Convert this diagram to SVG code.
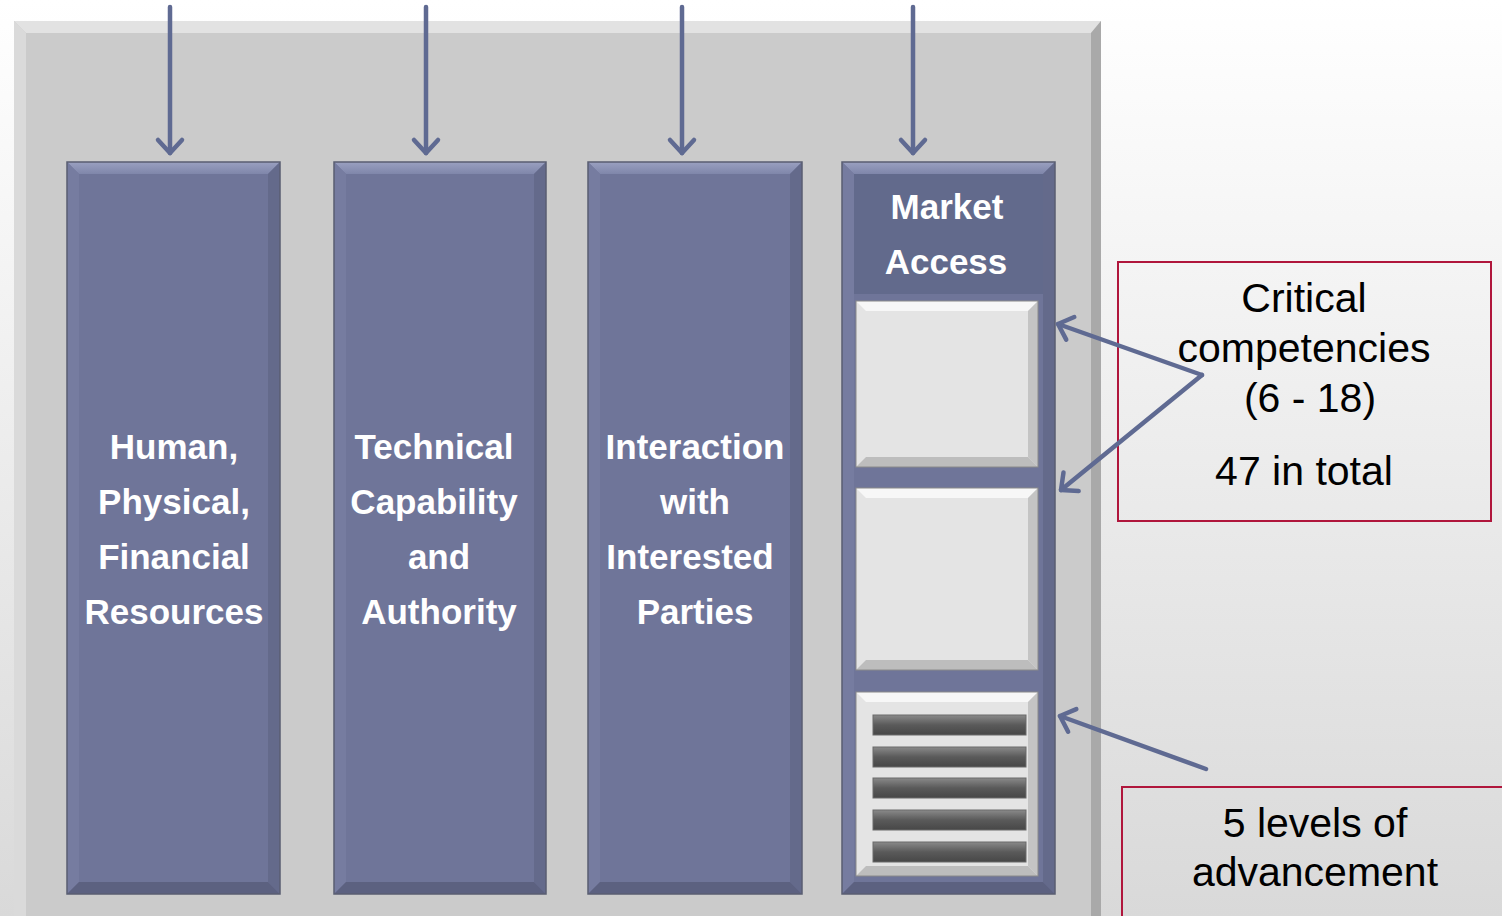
<svg xmlns="http://www.w3.org/2000/svg" width="1502" height="916" viewBox="0 0 1502 916">
<defs>
<linearGradient id="bg" x1="0" y1="0" x2="0" y2="1">
<stop offset="0" stop-color="#ffffff"/><stop offset="1" stop-color="#d9d9d9"/>
</linearGradient>
<marker id="ah" markerWidth="12" markerHeight="12" refX="9" refY="6" orient="auto" markerUnits="userSpaceOnUse" viewBox="0 0 12 12" overflow="visible">
<path d="M-4,-6 L9,6 L-4,18" fill="none" stroke="#5f6a92" stroke-width="4.5" stroke-linecap="round" stroke-linejoin="round"/>
</marker>
<linearGradient id="bar" x1="0" y1="0" x2="0" y2="1">
<stop offset="0" stop-color="#8a8a8a"/><stop offset="0.5" stop-color="#5a5a5a"/><stop offset="1" stop-color="#474747"/>
</linearGradient>
<linearGradient id="topb" x1="0" y1="0" x2="0" y2="1">
<stop offset="0" stop-color="#9aa0c0"/><stop offset="1" stop-color="#7f86aa"/>
</linearGradient>
</defs>
<style>
.col{fill:#6f7599}
.bt{fill:url(#topb)}
.bl{fill:#767ca0}
.br{fill:#646a8b}
.bb{fill:#5c6180}
.edge{fill:none;stroke:#5a5e72;stroke-width:1.5}
.lbl{font-family:"Liberation Sans",Arial,sans-serif;font-weight:bold;font-size:35px;fill:#ffffff;text-anchor:middle}
.call{font-family:"Liberation Sans",Arial,sans-serif;font-size:41px;fill:#000000;text-anchor:middle}
.box{fill:none;stroke:#b0163c;stroke-width:2}
.conn{fill:none;stroke:#5f6a92;stroke-width:4.5;stroke-linecap:round}
.wb{fill:#e4e4e4}
.wbt{fill:#f7f7f7}
.wbr{fill:#c4c4c4}
.wbb{fill:#bdbdbd}
</style>
<rect x="0" y="0" width="1502" height="916" fill="url(#bg)"/>
<g id="panel">
<rect x="14" y="21" width="1087" height="900" fill="#cbcbcb"/>
<polygon points="14,21 1101,21 1091,33 26,33" fill="#e2e2e2"/>
<polygon points="14,21 26,33 26,921 14,921" fill="#dadada"/>
<polygon points="1101,21 1101,921 1091,921 1091,33" fill="#a9a9a9"/>
</g>
<g id="col1">
<rect class="col" x="67" y="162" width="213" height="732"/>
<polygon class="bt" points="67,162 280,162 268,174 79,174"/>
<polygon class="bl" points="67,162 79,174 79,882 67,894"/>
<polygon class="br" points="280,162 280,894 268,882 268,174"/>
<polygon class="bb" points="67,894 280,894 268,882 79,882"/>
<rect class="edge" x="67" y="162" width="213" height="732"/>
<text class="lbl" x="174" y="459">Human,</text>
<text class="lbl" x="174" y="514">Physical,</text>
<text class="lbl" x="174" y="569">Financial</text>
<text class="lbl" x="174" y="624">Resources</text>
</g>
<g id="col2">
<rect class="col" x="334" y="162" width="212" height="732"/>
<polygon class="bt" points="334,162 546,162 534,174 346,174"/>
<polygon class="bl" points="334,162 346,174 346,882 334,894"/>
<polygon class="br" points="546,162 546,894 534,882 534,174"/>
<polygon class="bb" points="334,894 546,894 534,882 346,882"/>
<rect class="edge" x="334" y="162" width="212" height="732"/>
<text class="lbl" x="434" y="459">Technical</text>
<text class="lbl" x="434" y="514">Capability</text>
<text class="lbl" x="439" y="569">and</text>
<text class="lbl" x="439" y="624">Authority</text>
</g>
<g id="col3">
<rect class="col" x="588" y="162" width="214" height="732"/>
<polygon class="bt" points="588,162 802,162 790,174 600,174"/>
<polygon class="bl" points="588,162 600,174 600,882 588,894"/>
<polygon class="br" points="802,162 802,894 790,882 790,174"/>
<polygon class="bb" points="588,894 802,894 790,882 600,882"/>
<rect class="edge" x="588" y="162" width="214" height="732"/>
<text class="lbl" x="695" y="459">Interaction</text>
<text class="lbl" x="695" y="514">with</text>
<text class="lbl" x="690" y="569">Interested</text>
<text class="lbl" x="695" y="624">Parties</text>
</g>
<g id="col4">
<rect class="col" x="842" y="162" width="213" height="732"/>
<rect x="854" y="174" width="189" height="120" fill="#626a8c"/>
<polygon class="bt" points="842,162 1055,162 1043,174 854,174"/>
<polygon class="bl" points="842,162 854,174 854,882 842,894"/>
<polygon class="br" points="1055,162 1055,894 1043,882 1043,174"/>
<polygon class="bb" points="842,894 1055,894 1043,882 854,882"/>
<rect class="edge" x="842" y="162" width="213" height="732"/>
<text class="lbl" x="947" y="219">Market</text>
<text class="lbl" x="946" y="274">Access</text>
</g>
<g id="comp1">
<rect class="wb" x="856" y="301" width="182" height="166"/>
<polygon class="wbt" points="856,301 1038,301 1028,311 866,311"/>
<polygon class="wbr" points="1038,301 1038,467 1028,457 1028,311"/>
<polygon class="wbb" points="856,467 1038,467 1028,457 866,457"/>
<rect x="856" y="301" width="182" height="166" fill="none" stroke="#8a8a8a" stroke-width="1"/>
</g>
<g id="comp2">
<rect class="wb" x="856" y="488" width="182" height="182"/>
<polygon class="wbt" points="856,488 1038,488 1028,498 866,498"/>
<polygon class="wbr" points="1038,488 1038,670 1028,660 1028,498"/>
<polygon class="wbb" points="856,670 1038,670 1028,660 866,660"/>
<rect x="856" y="488" width="182" height="182" fill="none" stroke="#8a8a8a" stroke-width="1"/>
</g>
<g id="levels">
<rect class="wb" x="856" y="692" width="182" height="184"/>
<polygon class="wbt" points="856,692 1038,692 1028,702 866,702"/>
<polygon class="wbr" points="1038,692 1038,876 1028,866 1028,702"/>
<polygon class="wbb" points="856,876 1038,876 1028,866 866,866"/>
<rect x="856" y="692" width="182" height="184" fill="none" stroke="#8a8a8a" stroke-width="1"/>
<rect x="873" y="715" width="153" height="20" fill="url(#bar)" stroke="#6a6a6a" stroke-width="1"/>
<rect x="873" y="747" width="153" height="20" fill="url(#bar)" stroke="#6a6a6a" stroke-width="1"/>
<rect x="873" y="778" width="153" height="20" fill="url(#bar)" stroke="#6a6a6a" stroke-width="1"/>
<rect x="873" y="810" width="153" height="20" fill="url(#bar)" stroke="#6a6a6a" stroke-width="1"/>
<rect x="873" y="842" width="153" height="20" fill="url(#bar)" stroke="#6a6a6a" stroke-width="1"/>
</g>
<g id="callout1">
<rect class="box" x="1118" y="262" width="373" height="259"/>
<text class="call" x="1304" y="312">Critical</text>
<text class="call" x="1304" y="362">competencies</text>
<text class="call" x="1310" y="412">(6 - 18)</text>
<text class="call" x="1304" y="485">47 in total</text>
</g>
<g id="callout2">
<rect class="box" x="1122" y="787" width="390" height="140"/>
<text class="call" x="1315" y="837">5 levels of</text>
<text class="call" x="1315" y="886">advancement</text>
</g>
<g id="connectors">
<line class="conn" x1="170" y1="7" x2="170" y2="153" marker-end="url(#ah)"/>
<line class="conn" x1="426" y1="7" x2="426" y2="153" marker-end="url(#ah)"/>
<line class="conn" x1="682" y1="7" x2="682" y2="153" marker-end="url(#ah)"/>
<line class="conn" x1="913" y1="7" x2="913" y2="153" marker-end="url(#ah)"/>
<line class="conn" x1="1202" y1="375" x2="1058" y2="324" marker-end="url(#ah)"/>
<line class="conn" x1="1202" y1="375" x2="1061" y2="490" marker-end="url(#ah)"/>
<line class="conn" x1="1206" y1="769" x2="1060" y2="716" marker-end="url(#ah)"/>
</g>
</svg>
